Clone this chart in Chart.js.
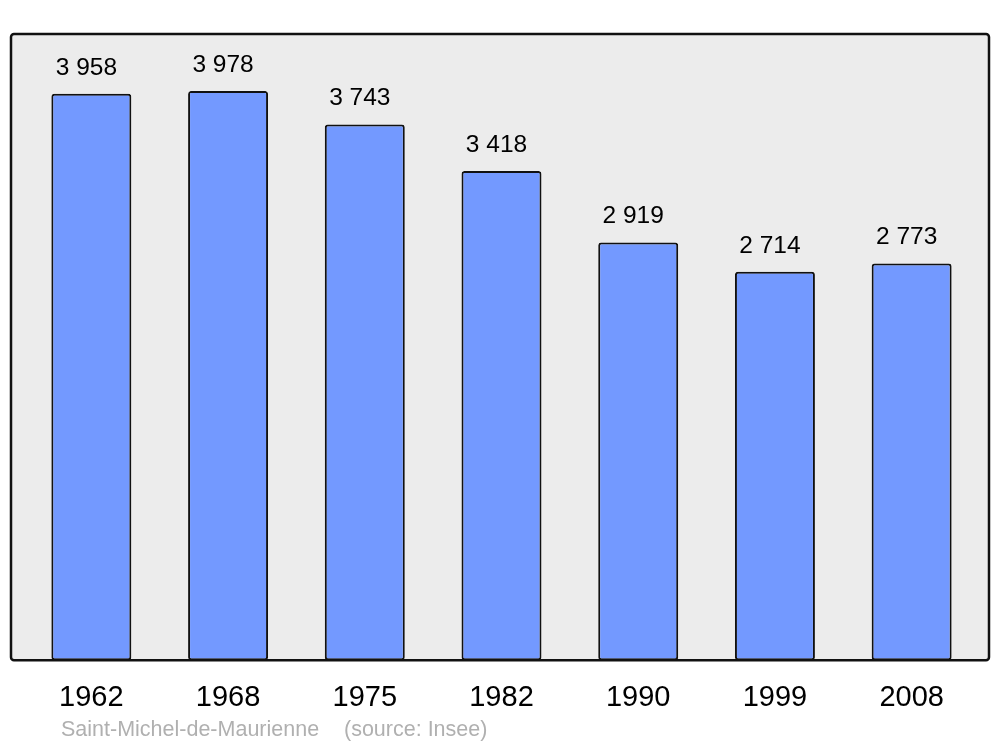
<!DOCTYPE html>
<html>
<head>
<meta charset="utf-8">
<script src="https://cdn.jsdelivr.net/npm/chart.js@4/dist/chart.umd.min.js"></script>
<style>
    body { margin: 0; background: #fff; }
    #wrap { width: 1000px; height: 747px; position: relative; }
</style>
</head>
<body>
<div id="wrap"><canvas id="popChart"></canvas></div>
<script>
const years = ['1962', '1968', '1975', '1982', '1990', '1999', '2008'];
const population = [3958, 3978, 3743, 3418, 2919, 2714, 2773];
const townName = 'Saint-Michel-de-Maurienne';
const sourceText = '(source: Insee)';

const fmt = v => String(v).replace(/\B(?=(\d{3})+(?!\d))/g, ' ');

// grey frame behind the bars
const framePlugin = {
    id: 'frame',
    beforeDraw(chart) {
        const { ctx, chartArea } = chart;
        const x0 = chartArea.left - 12, x1 = chartArea.right + 9;
        const y0 = chartArea.top, y1 = chartArea.bottom;
        ctx.save();
        ctx.beginPath();
        ctx.roundRect(x0, y0, x1 - x0, y1 - y0, 3);
        ctx.fillStyle = '#ececec';
        ctx.fill();
        ctx.restore();
    },
    afterDatasetsDraw(chart) {
        const { ctx, chartArea } = chart;
        const x0 = chartArea.left - 12, x1 = chartArea.right + 9;
        const y0 = chartArea.top, y1 = chartArea.bottom;
        ctx.save();
        ctx.beginPath();
        ctx.roundRect(x0, y0, x1 - x0, y1 - y0, 3);
        ctx.lineWidth = 2.5;
        ctx.strokeStyle = '#111';
        ctx.stroke();

        // values above bars
        ctx.font = '24.5px "Liberation Sans", Arial, sans-serif';
        ctx.fillStyle = '#000';
        ctx.textAlign = 'center';
        ctx.textBaseline = 'middle';
        chart.getDatasetMeta(0).data.forEach((bar, i) => {
            ctx.fillText(fmt(population[i]), bar.x - 5, bar.y - 26);
        });

        // caption
        ctx.font = '21.5px "Liberation Sans", Arial, sans-serif';
        ctx.fillStyle = '#b0b0b0';
        ctx.textAlign = 'left';
        ctx.fillText(townName, 61, 730);
        ctx.fillText(sourceText, 344, 730);
        ctx.restore();
    }
};

new Chart(document.getElementById('popChart'), {
    type: 'bar',
    data: {
        labels: years,
        datasets: [{
            data: population,
            backgroundColor: '#7399ff',
            borderColor: '#111',
            borderWidth: 2,
            borderRadius: 3,
            borderSkipped: false,
            categoryPercentage: 1,
            barPercentage: 0.585
        }]
    },
    options: {
        responsive: true,
        maintainAspectRatio: false,
        animation: false,
        layout: { padding: { left: 23, right: 20, top: 34, bottom: 12 } },
        scales: {
            y: { display: false, min: 0, max: 4376 },
            x: {
                grid: { display: false, drawTicks: false },
                border: { display: false },
                ticks: {
                    color: '#000',
                    padding: 20,
                    font: { family: '"Liberation Sans", Arial, sans-serif', size: 29 }
                }
            }
        },
        plugins: { legend: { display: false }, tooltip: { enabled: false } }
    },
    plugins: [framePlugin]
});
</script>
</body>
</html>
